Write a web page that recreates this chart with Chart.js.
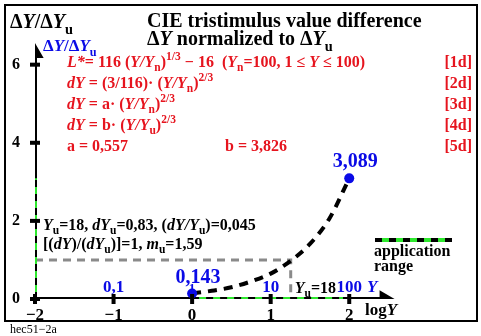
<!DOCTYPE html>
<html>
<head>
<meta charset="utf-8">
<script src="https://cdn.jsdelivr.net/npm/chart.js@4.4.1/dist/chart.umd.min.js"></script>
<style>
  html, body { margin: 0; padding: 0; background: #fff; }
  canvas { display: block; }
</style>
</head>
<body>
<canvas id="c" width="481" height="336"></canvas>
<script>
// axis ticks
const xTicks = [-2, -1, 0, 1, 2];
const yTicks = [0, 2, 4, 6];

// curve dY/dYu against log Y
const logY = [0, 0.25, 0.5, 0.75, 1, 1.25, 1.5, 1.75, 2];
const ratio = [0.143, 0.21, 0.30, 0.45, 0.65, 0.97, 1.41, 2.07, 3.089];

// reference point Yu = 18 (log 18), ratio 1
const logYu = 1.255;
const ratioU = 1;

// application range on both axes
const rangeX = [0, 1.92];
const rangeY = [0, 3.089];

// axis ends (arrow heads)
const xAxisEnd = 2.45;
const yAxisEnd = 6.3;

// Y values written above the log axis
const yValueLabels = [
  { v: -1, t: "0,1" },
  { v: 0, t: "1" },
  { v: 1, t: "10" },
  { v: 2, t: "100" },
];

const green = "#2ee82e";
const blue = "#0a0ae6";
const red = "#e6141e";
const grey = "#8a8a8a";
const serif = '"Liberation Serif", "Times New Roman", serif';

function pts(xs, ys) {
  return xs.map((x, i) => ({ x: x, y: ys[i] }));
}

// draws a row of text pieces; flags: i italic, _ subscript, ^ superscript
function rich(ctx, x, y, segs, size, color, align) {
  const parts = segs.map(([t, f = ""]) => {
    const small = f.includes("_") || f.includes("^");
    const s = small ? size * 0.72 : size;
    const font = (f.includes("i") ? "italic " : "") + "bold " + s + "px " + serif;
    ctx.font = font;
    return { t, f, font, w: ctx.measureText(t).width };
  });
  const total = parts.reduce((a, p) => a + p.w, 0);
  let cx = align === "right" ? x - total : align === "center" ? x - total / 2 : x;
  ctx.fillStyle = color;
  ctx.textAlign = "left";
  ctx.textBaseline = "alphabetic";
  for (const p of parts) {
    ctx.font = p.font;
    const dy = p.f.includes("_") ? size * 0.28 : p.f.includes("^") ? -size * 0.45 : 0;
    ctx.fillText(p.t, cx, y + dy);
    cx += p.w;
  }
}

const decorations = {
  id: "decorations",
  beforeDraw(chart) {
    const ctx = chart.ctx;
    ctx.save();
    ctx.fillStyle = "#fff";
    ctx.fillRect(0, 0, chart.width, chart.height);
    ctx.restore();
  },
  afterDatasetsDraw(chart) {
    const ctx = chart.ctx;
    const xs = chart.scales.x;
    const ys = chart.scales.y;
    const x0 = xs.getPixelForValue(-2);
    const y0 = ys.getPixelForValue(0);
    ctx.save();
    ctx.fillStyle = "#000";
    // tick crossbars
    xTicks.forEach((v) => {
      const px = xs.getPixelForValue(v);
      ctx.fillRect(px - 2, y0 - 5, 4, 10);
    });
    yTicks.forEach((v) => {
      const py = ys.getPixelForValue(v);
      ctx.fillRect(x0 - 5, py - 2, 10, 4);
    });
    ctx.restore();
  },
  afterDraw(chart) {
    const ctx = chart.ctx;
    const xs = chart.scales.x;
    const ys = chart.scales.y;
    ctx.save();

    // frame
    ctx.strokeStyle = "#000";
    ctx.lineWidth = 2;
    ctx.strokeRect(5, 5, 472, 316);

    // titles
    rich(ctx, 10, 28, [["Δ"], ["Y", "i"], ["/Δ"], ["Y", "i"], ["u", "_"]], 20, "#000");
    rich(ctx, 147, 27, [["CIE tristimulus value difference"]], 20, "#000");
    rich(ctx, 147, 45, [["Δ"], ["Y", "i"], [" normalized to Δ"], ["Y", "i"], ["u", "_"]], 20, "#000");
    rich(ctx, 43, 51, [["Δ"], ["Y", "i"], ["/Δ"], ["Y", "i"], ["u", "_"]], 17, blue);

    // formulas
    rich(ctx, 67, 67, [["L*", "i"], ["= 116 ("], ["Y/Y", "i"], ["n", "_"], [")"], ["1/3", "^"],
      [" − 16  ("], ["Y", "i"], ["n", "_"], ["=100, 1 ≤ "], ["Y", "i"], [" ≤ 100)"]], 16, red);
    rich(ctx, 67, 88, [["dY", "i"], [" = (3/116)"], ["·"], [" ("], ["Y/Y", "i"], ["n", "_"], [")"], ["2/3", "^"]], 16, red);
    rich(ctx, 67, 109, [["dY", "i"], [" = a"], ["·"], [" ("], ["Y/Y", "i"], ["n", "_"], [")"], ["2/3", "^"]], 16, red);
    rich(ctx, 67, 130, [["dY", "i"], [" = b"], ["·"], [" ("], ["Y/Y", "i"], ["u", "_"], [")"], ["2/3", "^"]], 16, red);
    rich(ctx, 67, 151, [["a = 0,557"]], 16, red);
    rich(ctx, 225, 151, [["b = 3,826"]], 16, red);
    ["[1d]", "[2d]", "[3d]", "[4d]", "[5d]"].forEach((t, i) => {
      rich(ctx, 472, 67 + i * 21, [[t]], 16, red, "right");
    });

    // notes
    rich(ctx, 43, 230, [["Y", "i"], ["u", "_"], ["=18, "], ["dY", "i"], ["u", "_"], ["=0,83, ("],
      ["dY/Y", "i"], ["u", "_"], [")=0,045"]], 16, "#000");
    rich(ctx, 43, 249, [["[("], ["dY", "i"], [")/("], ["dY", "i"], ["u", "_"], [")]=1, "],
      ["m", "i"], ["u", "_"], ["=1,59"]], 16, "#000");

    // point values
    const last = logY.length - 1;
    rich(ctx, xs.getPixelForValue(logY[last]) + 6, ys.getPixelForValue(ratio[last]) - 11,
      [["3,089"]], 20, blue, "center");
    rich(ctx, xs.getPixelForValue(logY[0]) + 6, ys.getPixelForValue(ratio[0]) - 10,
      [["0,143"]], 20, blue, "center");

    // Y values along the log axis
    const yAx = ys.getPixelForValue(0);
    yValueLabels.forEach((l) => {
      rich(ctx, xs.getPixelForValue(l.v), yAx - 7, [[l.t]], l.t === "1" ? 13 : 17, blue, "center");
    });
    rich(ctx, xs.getPixelForValue(2) + 23, yAx - 7, [["Y", "i"]], 17, blue, "center");
    rich(ctx, xs.getPixelForValue(logYu) + 4, yAx - 6, [["Y", "i"], ["u", "_"], ["=18"]], 16, "#000");
    rich(ctx, 365, 315, [["log"], ["Y", "i"]], 17, "#000");

    // legend: application range
    ctx.lineWidth = 4;
    ctx.strokeStyle = green;
    ctx.beginPath();
    ctx.moveTo(375, 240);
    ctx.lineTo(452, 240);
    ctx.stroke();
    ctx.strokeStyle = "#000";
    ctx.setLineDash([7, 7]);
    ctx.beginPath();
    ctx.moveTo(375, 240);
    ctx.lineTo(452, 240);
    ctx.stroke();
    ctx.setLineDash([]);
    rich(ctx, 374, 256, [["application"]], 16, "#000");
    rich(ctx, 374, 271, [["range"]], 16, "#000");

    // source tag
    ctx.font = "12px " + serif;
    ctx.fillStyle = "#000";
    ctx.fillText("hec51−2a", 10, 333);
    ctx.restore();
  },
};

const lineBase = { showLine: true, pointRadius: 0, fill: false, tension: 0 };

new Chart(document.getElementById("c"), {
  type: "scatter",
  data: {
    datasets: [
      // blue end points (on top)
      {
        data: [{ x: logY[0], y: ratio[0] }, { x: logY[logY.length - 1], y: ratio[ratio.length - 1] }],
        pointRadius: 5,
        pointBackgroundColor: blue,
        pointBorderWidth: 0,
        showLine: false,
      },
      // curve
      {
        ...lineBase,
        data: pts(logY, ratio),
        borderColor: "#000",
        borderWidth: 4,
        borderDash: [9, 7],
        cubicInterpolationMode: "monotone",
      },
      // black dashes over the application range
      { ...lineBase, data: pts(rangeX, [0, 0]), borderColor: "#000", borderWidth: 4, borderDash: [7, 7] },
      { ...lineBase, data: pts([-2, -2], rangeY), borderColor: "#000", borderWidth: 4, borderDash: [7, 7] },
      // green application range
      { ...lineBase, data: pts(rangeX, [0, 0]), borderColor: green, borderWidth: 4 },
      { ...lineBase, data: pts([-2, -2], rangeY), borderColor: green, borderWidth: 4 },
      // axes with arrow heads
      {
        ...lineBase,
        data: pts([-2, xAxisEnd], [0, 0]),
        borderColor: "#000",
        borderWidth: 4,
        pointRadius: [0, 6],
        pointStyle: "triangle",
        rotation: 90,
        pointBackgroundColor: "#000",
        pointBorderColor: "#000",
      },
      {
        ...lineBase,
        data: pts([-2, -2], [0, yAxisEnd]),
        borderColor: "#000",
        borderWidth: 4,
        pointRadius: [0, 6],
        pointStyle: "triangle",
        pointBackgroundColor: "#000",
        pointBorderColor: "#000",
      },
      // grey guide lines to Yu
      {
        ...lineBase,
        data: pts([-2, logYu, logYu], [ratioU, ratioU, 0]),
        borderColor: grey,
        borderWidth: 3,
        borderDash: [8, 6],
      },
    ],
  },
  options: {
    responsive: false,
    animation: false,
    layout: { padding: { left: 0, right: 0, top: 9, bottom: 0 } },
    plugins: { legend: { display: false }, tooltip: { enabled: false } },
    scales: {
      x: {
        type: "linear",
        min: -2,
        max: 3.55,
        afterBuildTicks: (s) => { s.ticks = xTicks.map((v) => ({ value: v })); },
        afterFit: (s) => { s.height = 37; s.paddingLeft = 0; s.paddingRight = 0; },
        grid: { display: false, drawTicks: false },
        border: { display: false },
        ticks: {
          padding: 6,
          maxRotation: 0,
          autoSkip: false,
          color: "#000",
          font: { family: serif, size: 17, weight: "bold" },
          callback: (v) => String(v).replace("-", "−"),
        },
      },
      y: {
        min: 0,
        max: 7.4,
        afterBuildTicks: (s) => { s.ticks = yTicks.map((v) => ({ value: v })); },
        afterFit: (s) => { s.width = 35; s.paddingTop = 0; s.paddingBottom = 0; },
        grid: { display: false, drawTicks: false },
        border: { display: false },
        ticks: {
          padding: 15,
          color: "#000",
          font: { family: serif, size: 16, weight: "bold" },
        },
      },
    },
  },
  plugins: [decorations],
});
</script>
</body>
</html>
